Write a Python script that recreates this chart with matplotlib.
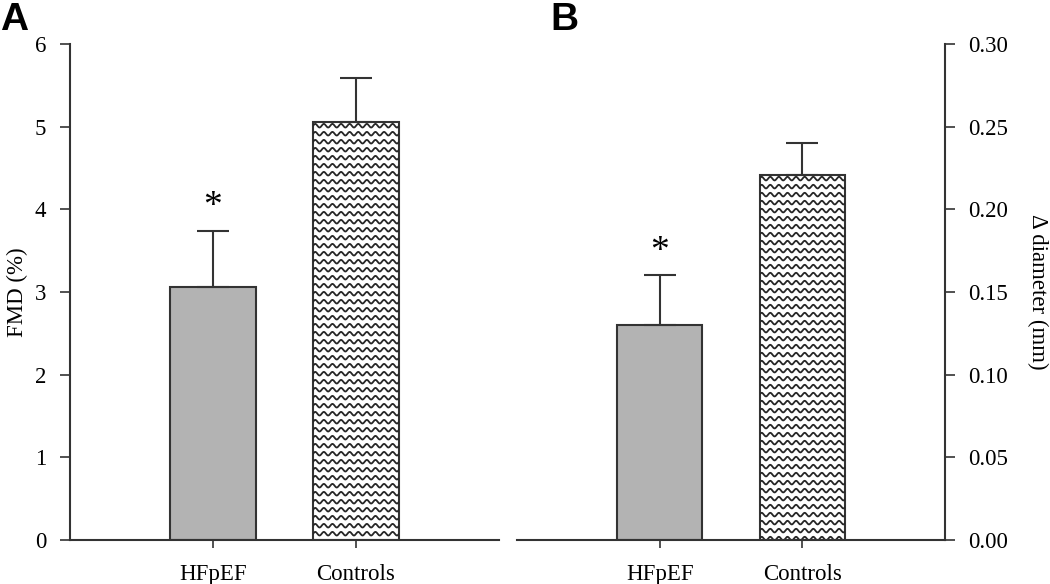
import numpy as np
import matplotlib
matplotlib.use("Agg")
import matplotlib.pyplot as plt
from matplotlib.transforms import IdentityTransform

categories = ["HFpEF", "Controls"]
fmd_values = [3.06, 5.06]
fmd_errors = [0.68, 0.53]
diam_values = [0.130, 0.221]
diam_errors = [0.030, 0.019]
fmd_ticks = [0, 1, 2, 3, 4, 5, 6]
diam_ticks = [0.00, 0.05, 0.10, 0.15, 0.20, 0.25, 0.30]

plt.rcParams['font.family'] = ['Liberation Serif', 'DejaVu Serif']

fig = plt.figure(figsize=(10.5, 5.84), dpi=100)
W, H = 1050, 584
axA = fig.add_axes([70 / W, 44 / H, 429 / W, 496 / H])
axB = fig.add_axes([517 / W, 44 / H, 428 / W, 496 / H])

gray = "#b3b3b3"
edge = "#333333"
FS = 16.5
x = np.arange(len(categories))


def wavy(ax, patch):
    fig.canvas.draw()
    bb = patch.get_window_extent()
    x0, x1, y0, y1 = bb.x0, bb.x1, bb.y0, bb.y1
    period = 8.6
    amp = 1.8
    spacing = 8.0
    xs = np.linspace(x0 - 2, x1 + 2, 400)
    yy = y1 - 4
    while yy > y0 - spacing:
        ys = yy + amp * np.sin(2 * np.pi * (xs - x0) / period)
        ln = ax.plot(xs, ys, transform=IdentityTransform(), color="#262626",
                     lw=1.3, zorder=2.5)[0]
        ln.set_clip_path(patch)
        yy -= spacing


def panel(ax, vals, errs, ylim, ticks, fmt, side):
    bars = ax.bar(x, vals, width=0.6, color=[gray, "white"], edgecolor=edge,
                  linewidth=1.5, zorder=2)
    for xi, v, e in zip(x, vals, errs):
        ax.errorbar(xi, v, yerr=[[0], [e]], fmt="none", ecolor=edge,
                    elinewidth=1.5, capsize=11.5, capthick=1.5, zorder=3)
    ax.annotate("*", xy=(x[0], vals[0] + errs[0]), xytext=(0, 5),
                textcoords="offset points", ha="center", va="bottom",
                fontsize=27)
    ax.set_xlim(-1.0, 2.0)
    ax.set_ylim(*ylim)
    ax.set_yticks(ticks)
    ax.set_yticklabels([fmt.format(t) for t in ticks], fontsize=FS)
    ax.set_xticks(x)
    ax.set_xticklabels(categories, fontsize=FS)
    ax.tick_params(axis="x", length=6, width=1.2, color=edge, pad=11)
    ax.tick_params(axis="y", length=7, width=1.2, color=edge, pad=10)
    ax.spines["top"].set_visible(False)
    if side == "left":
        ax.spines["right"].set_visible(False)
    else:
        ax.spines["left"].set_visible(False)
        ax.yaxis.tick_right()
        ax.yaxis.set_label_position("right")
    for s in ax.spines.values():
        s.set_linewidth(1.5)
        s.set_color(edge)
    return bars


barsA = panel(axA, fmd_values, fmd_errors, (0, 6), fmd_ticks, "{:g}", "left")
barsB = panel(axB, diam_values, diam_errors, (0, 0.30), diam_ticks, "{:.2f}", "right")

axA.set_ylabel("FMD (%)", fontsize=FS, va="center")
axB.set_ylabel("\u0394 diameter (mm)", fontsize=FS, rotation=270, va="center")
axA.yaxis.set_label_coords(-53 / 429, 0.5)
axB.yaxis.set_label_coords(1 + 93 / 428, 0.5)

wavy(axA, barsA[1])
wavy(axB, barsB[1])

fig.text(0 / W, 1 - 2 / H, "A", fontsize=28, fontweight="bold",
         family="Liberation Sans", ha="left", va="top")
fig.text(550 / W, 1 - 2 / H, "B", fontsize=28, fontweight="bold",
         family="Liberation Sans", ha="left", va="top")

fig.savefig("out.png", dpi=100)
